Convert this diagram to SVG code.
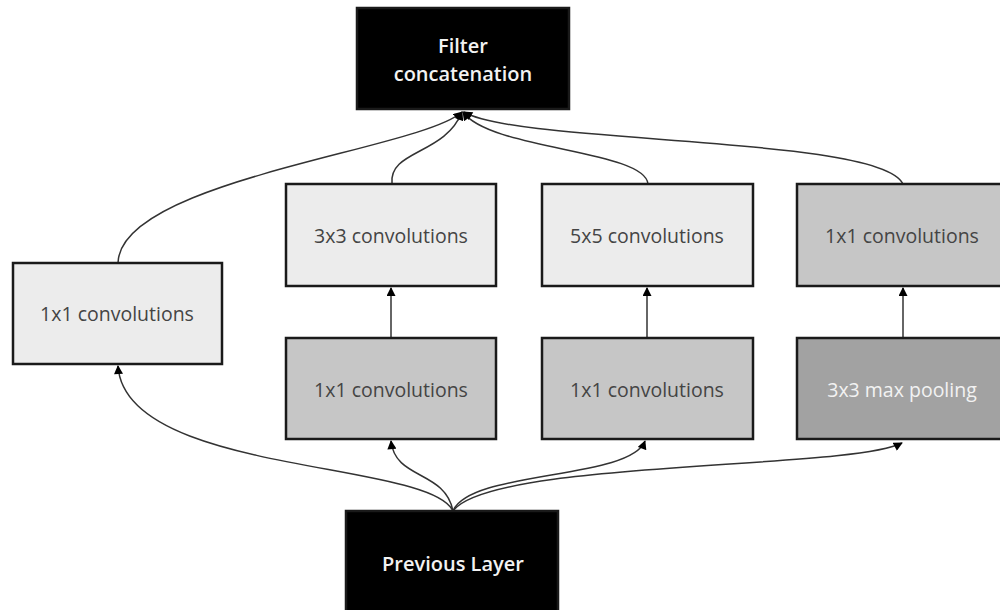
<svg xmlns="http://www.w3.org/2000/svg" width="1000" height="610" viewBox="0 0 1000 610">
<style>
.box{stroke:#1a1a1a;stroke-width:2.5}
.light{fill:#ececec}
.mid{fill:#c6c6c6}
.dark{fill:#a2a2a2}
.black{fill:#000}
.t{font-family:"Open Sans","Noto Sans",sans-serif;font-size:19.5px;fill:#444;text-anchor:middle}
.tw{font-family:"Open Sans","Noto Sans",sans-serif;font-size:19.5px;fill:#f2f2f2;text-anchor:middle}
.hb{font-weight:600;font-size:20px}
.c{fill:none;stroke:#333;stroke-width:1.5;marker-end:url(#ah)}
</style>
<defs>
<marker id="ah" viewBox="0 0 10 10" refX="9" refY="5" markerWidth="10" markerHeight="9" markerUnits="userSpaceOnUse" orient="auto">
<path d="M0,0 L10,5 L0,10 Z" fill="#000"/>
</marker>
</defs>
<rect width="1000" height="610" fill="#fff"/>
<g id="connectors">
<path class="c" d="M453,511 C 430,460 125,475 118,366"/>
<path class="c" d="M453,511 C 445,470 395,480 391,441"/>
<path class="c" d="M453,511 C 470,470 630,480 645,441"/>
<path class="c" d="M453,511 C 490,460 850,470 902,443"/>
<path class="c" d="M391,338 L391,288"/>
<path class="c" d="M647,338 L647,288"/>
<path class="c" d="M903,338 L903,288"/>
<path class="c" d="M118,263 C 120,180 420,150 462,112"/>
<path class="c" d="M392,184 C 388,150 445,155 462,112"/>
<path class="c" d="M648,184 C 645,150 490,150 463,112"/>
<path class="c" d="M903,184 C 880,135 520,145 464,112"/>
</g>
<g id="filter-concat">
<rect class="box black" x="357" y="8" width="212" height="101"/>
<text class="tw hb" x="463" y="53">Filter</text>
<text class="tw hb" x="463" y="81">concatenation</text>
</g>
<g id="conv1x1-left">
<rect class="box light" x="13" y="263" width="209" height="101"/>
<text class="t" x="117" y="321">1x1 convolutions</text>
</g>
<g id="conv3x3">
<rect class="box light" x="286" y="184" width="210" height="102"/>
<text class="t" x="391" y="243">3x3 convolutions</text>
</g>
<g id="conv5x5">
<rect class="box light" x="542" y="184" width="211" height="102"/>
<text class="t" x="647" y="243">5x5 convolutions</text>
</g>
<g id="conv1x1-right">
<rect class="box mid" x="797" y="184" width="210" height="102"/>
<text class="t" x="902" y="243">1x1 convolutions</text>
</g>
<g id="conv1x1-a">
<rect class="box mid" x="286" y="338" width="210" height="101"/>
<text class="t" x="391" y="397">1x1 convolutions</text>
</g>
<g id="conv1x1-b">
<rect class="box mid" x="542" y="338" width="211" height="101"/>
<text class="t" x="647" y="397">1x1 convolutions</text>
</g>
<g id="maxpool">
<rect class="box dark" x="797" y="338" width="210" height="101"/>
<text class="tw" x="902" y="397">3x3 max pooling</text>
</g>
<g id="previous-layer">
<rect class="box black" x="346" y="511" width="212" height="104"/>
<text class="tw hb" x="453" y="571">Previous Layer</text>
</g>
</svg>
